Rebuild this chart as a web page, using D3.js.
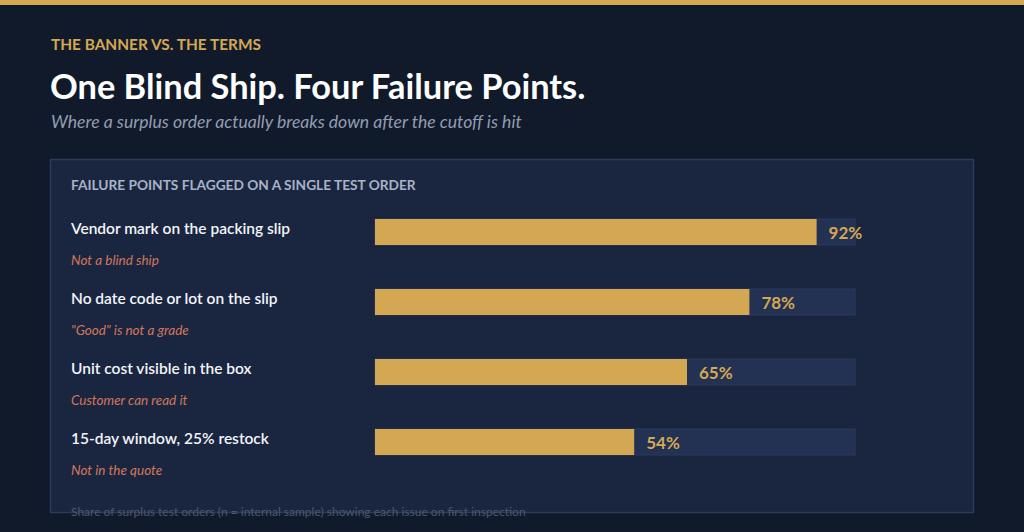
<!DOCTYPE html>
<html>
<head>
<meta charset="utf-8">
<script src="https://cdn.jsdelivr.net/npm/d3@7"></script>
<style>
  html, body { margin: 0; padding: 0; background: #111a2b; }
  svg { display: block; }
</style>
</head>
<body>
<div id="chart"></div>
<script>
const categories = [
  "Vendor mark on the packing slip",
  "No date code or lot on the slip",
  "Unit cost visible in the box",
  "15-day window, 25% restock"
]
const notes = [
  "Not a blind ship",
  "\"Good\" is not a grade",
  "Customer can read it",
  "Not in the quote"
]
const values = [92, 78, 65, 54]

const width = 1024
const height = 532
const font = "Lato, 'Open Sans', sans-serif"

const svg = d3.select("#chart")
  .append("svg")
  .attr("width", width)
  .attr("height", height)

svg.append("rect").attr("width", width).attr("height", height).attr("fill", "#111a2b")
svg.append("rect").attr("width", width).attr("height", 5).attr("fill", "#d4a853")

// header
svg.append("text").attr("x", 51).attr("y", 50)
  .attr("font-family", font).attr("font-size", 15.4).attr("font-weight", 700)
  .attr("fill", "#d4a853").text("THE BANNER VS. THE TERMS")
svg.append("text").attr("x", 50).attr("y", 99)
  .attr("font-family", font).attr("font-size", 34.4).attr("font-weight", 700)
  .attr("fill", "#ffffff").text("One Blind Ship. Four Failure Points.")
svg.append("text").attr("x", 51).attr("y", 128)
  .attr("font-family", font).attr("font-size", 17.6).attr("font-style", "italic")
  .attr("fill", "#939db0").text("Where a surplus order actually breaks down after the cutoff is hit")

// panel
svg.append("rect").attr("x", 50.5).attr("y", 159.5).attr("width", 923).attr("height", 353)
  .attr("fill", "#1a2640").attr("stroke", "#2c3b57").attr("stroke-width", 1.5)

svg.append("text").attr("x", 71).attr("y", 190)
  .attr("font-family", font).attr("font-size", 13.7).attr("font-weight", 700)
  .attr("fill", "#a9b3c6").text("FAILURE POINTS FLAGGED ON A SINGLE TEST ORDER")

const x = d3.scaleLinear().domain([0, 100]).range([375, 855])
// rows 70px apart, bars 26px tall, first bar top at 219
const y = d3.scaleBand().domain(categories)
  .range([206, 468])
  .paddingInner(44 / 70)
  .paddingOuter(13 / 70)
const bh = y.bandwidth()

const rows = svg.append("g").selectAll("g").data(categories).join("g")

rows.append("rect")
  .attr("x", x(0)).attr("y", d => y(d))
  .attr("width", x(100) - x(0)).attr("height", bh)
  .attr("fill", "#233152").attr("stroke", "#2b3a5a").attr("stroke-width", 1)

rows.append("rect")
  .attr("x", x(0)).attr("y", d => y(d))
  .attr("width", (d, i) => x(values[i]) - x(0)).attr("height", bh)
  .attr("fill", "#d4a853")

rows.append("text")
  .attr("x", (d, i) => x(values[i]) + 12).attr("y", d => y(d) + 20)
  .attr("font-family", font).attr("font-size", 17).attr("font-weight", 700)
  .attr("fill", "#d4a853").text((d, i) => values[i] + "%")

rows.append("text")
  .attr("x", 71).attr("y", d => y(d) + 15)
  .attr("font-family", font).attr("font-size", 15.5).attr("font-weight", 600)
  .attr("fill", "#f2f4f8").text(d => d)

rows.append("text")
  .attr("x", 71).attr("y", (d, i) => y(d) + 46)
  .attr("font-family", font).attr("font-size", 13.5).attr("font-style", "italic")
  .attr("fill", "#d2775a").text((d, i) => notes[i])

svg.append("text").attr("x", 71).attr("y", 516)
  .attr("font-family", font).attr("font-size", 12)
  .attr("fill", "#4c586e").text("Share of surplus test orders (n = internal sample) showing each issue on first inspection")
</script>
</body>
</html>
